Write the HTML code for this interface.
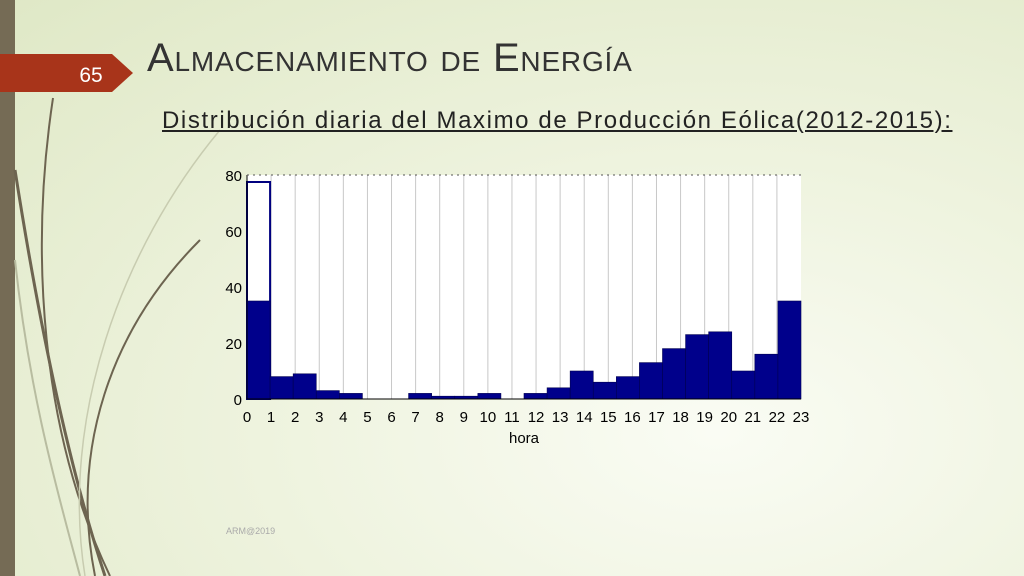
<!DOCTYPE html>
<html><head><meta charset="utf-8"><style>
body{margin:0;width:1024px;height:576px;overflow:hidden;font-family:"Liberation Sans",sans-serif;}
#slide{position:relative;width:1024px;height:576px;background:radial-gradient(ellipse at 70% 75%,#fafcf4 0%,#eef3de 45%,#dfe8c6 100%);}
</style></head><body>
<div id="slide">
<div style="position:absolute;left:0;top:0;width:15px;height:576px;background:#756b55"></div>
<svg width="320" height="576" style="position:absolute;left:0;top:0">
<path d="M53 98 C30 250 40 430 110 576" stroke="#6d6450" stroke-width="2" fill="none"/>
<path d="M15 170 C40 330 70 470 105 576" stroke="#6d6450" stroke-width="3" fill="none"/>
<path d="M200 240 C110 330 70 450 95 576" stroke="#6d6450" stroke-width="2" fill="none"/>
<path d="M220 130 C120 250 60 420 85 576" stroke="#c8ccb0" stroke-width="1.5" fill="none"/>
<path d="M15 260 C30 400 60 500 80 576" stroke="#b8bca0" stroke-width="2" fill="none"/>
</svg>
<svg width="140" height="40" style="position:absolute;left:0;top:54px">
<polygon points="0,0 112,0 133,19 112,38 0,38" fill="#a8341a"/>
<text x="91" y="28" font-size="21" fill="#fff" text-anchor="middle" font-family="Liberation Sans">65</text>
</svg>
<div style="position:absolute;left:147px;top:36px;font-size:40px;color:#333;font-variant:small-caps;letter-spacing:0.8px;font-family:'Liberation Sans',sans-serif">Almacenamiento de Energía</div>
<div style="position:absolute;left:162px;top:107px;font-size:24px;letter-spacing:1.6px;color:#222;text-decoration:underline;white-space:nowrap">Distribución diaria del Maximo de Producción Eólica(2012-2015):</div>
<div style="position:absolute;left:226px;top:526px;font-size:9px;color:#aaa">ARM@2019</div>
<svg id="chart" width="1024" height="576" style="position:absolute;left:0;top:0"></svg>
</div>
<script>
const hours=[0,1,2,3,4,5,6,7,8,9,10,11,12,13,14,15,16,17,18,19,20,21,22,23];
const counts=[35,8,9,3,2,0,0,2,1,1,2,0,2,4,10,6,8,13,18,23,24,10,16,35];
const outlineCounts=[77.5];
const yTicks=[0,20,40,60,80];
const xTicks=[0,1,2,3,4,5,6,7,8,9,10,11,12,13,14,15,16,17,18,19,20,21,22,23];
const NS='http://www.w3.org/2000/svg';
const svg=document.getElementById('chart');
const X0=247,X1=801,Y0=399,Y1=175;
const xs=v=>X0+(v/23)*(X1-X0);
const ys=v=>Y0-(v/80)*(Y0-Y1);
function mk(t,a){const e=document.createElementNS(NS,t);for(const k in a)e.setAttribute(k,a[k]);svg.appendChild(e);return e;}
let bg=mk('rect',{x:X0,y:Y1,width:X1-X0,height:Y0-Y1,fill:'#fff'});


xTicks.forEach(t=>{if(t>0&&t<23){const l=mk('line',{x1:xs(t),x2:xs(t),y1:Y1,y2:Y0,stroke:'#c8c8c8','stroke-width':1});

}});
const bw=23/24;
outlineCounts.forEach((c,i)=>{const r=mk('rect',{x:xs(i*bw),y:ys(c),width:xs(bw)-X0,height:Y0-ys(c),fill:'#fff',stroke:'#00007f','stroke-width':2});

});
counts.forEach((c,i)=>{if(c<=0)return;const r=mk('rect',{x:xs(i*bw),y:ys(c),width:xs(bw)-X0,height:Y0-ys(c),fill:'#00008b',stroke:'#000050','stroke-width':0.6});

});
const ax=mk('path',{d:`M${X0} ${Y1}V${Y0}H${X1}`,stroke:'#000',fill:'none','stroke-width':1});


const tp=mk('line',{x1:X0,x2:X1,y1:Y1,y2:Y1,stroke:'#555','stroke-width':1,'stroke-dasharray':'2 4'});


yTicks.forEach(t=>{const tx=mk('text',{x:X0-5,y:ys(t)+6,'font-size':15,'text-anchor':'end',fill:'#000'});tx.textContent=t;

});
xTicks.forEach(t=>{const tx=mk('text',{x:xs(t),y:Y0+23,'font-size':15,'text-anchor':'middle',fill:'#000'});tx.textContent=t;

});
const xl=mk('text',{x:(X0+X1)/2,y:Y0+44,'font-size':15,'text-anchor':'middle',fill:'#000'});xl.textContent='hora';


</script>
</body></html>
